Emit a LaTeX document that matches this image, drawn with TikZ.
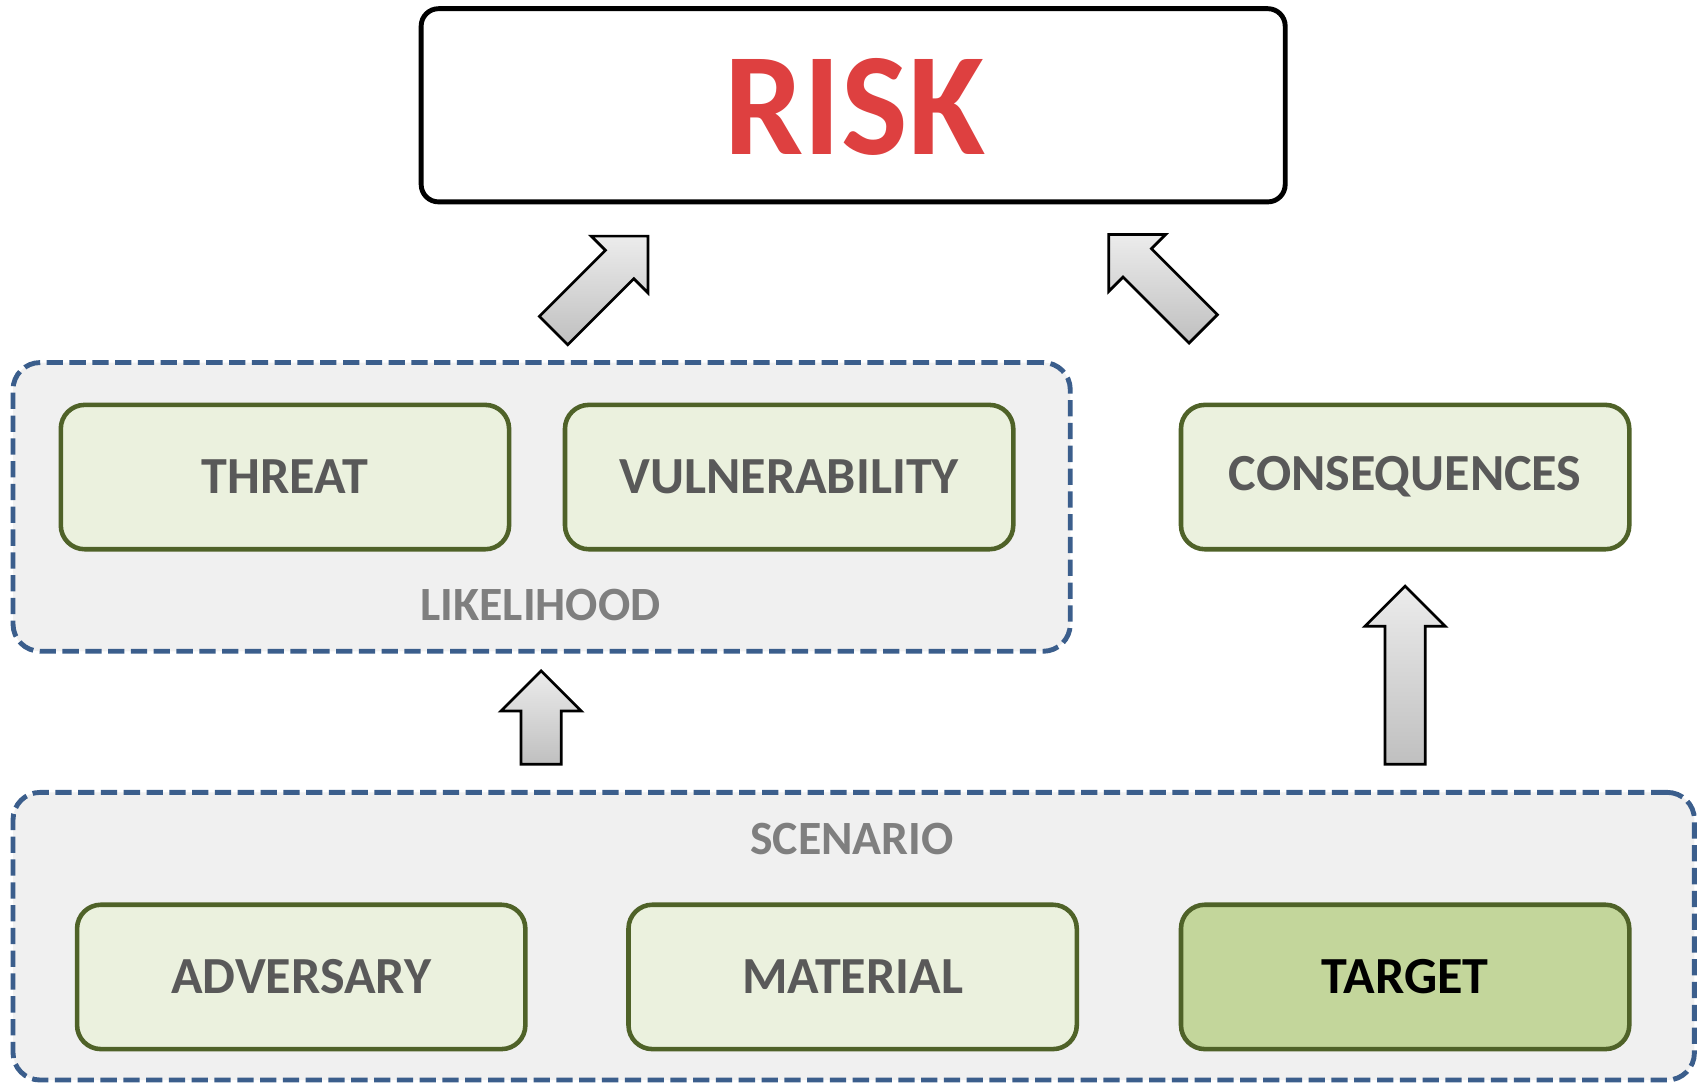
\documentclass[tikz,border=0pt]{standalone}
\usepackage{fontspec}
\setmainfont{Carlito}
\definecolor{dashblue}{HTML}{3B5E8C}
\definecolor{panelgray}{HTML}{F0F0F0}
\definecolor{boxfill}{HTML}{EBF1DE}
\definecolor{boxline}{HTML}{4F6228}
\definecolor{targetfill}{HTML}{C3D69B}
\definecolor{textgray}{HTML}{595959}
\definecolor{labelgray}{HTML}{7F7F7F}
\definecolor{riskred}{HTML}{DE4040}
\tikzset{
  panel/.style={draw=dashblue, fill=panelgray, line width=4.5pt, dash pattern=on 15pt off 6pt,
    rounded corners=25pt, inner sep=0pt, outer sep=0pt},
  itembox/.style={draw=boxline, fill=boxfill, line width=4.2pt, rounded corners=22pt,
    minimum width=413pt, minimum height=133pt, inner sep=0pt, outer sep=0pt,
    text=textgray, font=\bfseries\fontsize{48}{58}\selectfont},
  paneltitle/.style={text=labelgray, font=\bfseries\fontsize{44}{52}\selectfont, inner sep=0pt},
  riskbox/.style={draw=black, fill=white, line width=4.5pt, rounded corners=16pt,
    minimum width=796pt, minimum height=178pt, inner sep=0pt, outer sep=0pt},
  blockarrow/.style={draw=black, line width=2.5pt, line join=miter, top color=gray!15, bottom color=gray!50}
}
\newcommand\blkarrow[4]{%
  \begin{scope}[shift={(#1,#2)},rotate=#3]
    \draw[blockarrow] (0,-18.5) -- ({#4-37},-18.5) -- ({#4-37},-37) -- (#4,0)
      -- ({#4-37},37) -- ({#4-37},18.5) -- (0,18.5) -- cycle;
  \end{scope}}
\begin{document}
\begin{tikzpicture}[x=1pt,y=-1pt]
\useasboundingbox (0,0) rectangle (1568,998);
% panels
\node[panel, minimum width=974pt, minimum height=266pt] (likelihood) at (499,467) {};
\node[panel, minimum width=1549pt, minimum height=265pt] (scenario) at (786.5,862.5) {};
\node[paneltitle] (liklabel) at (498,557) {LIKELIHOOD};
\node[paneltitle] (scenlabel) at (785,773) {SCENARIO};
% risk
\node[riskbox] (risk) at (786,97) {};
\node[text=riskred, font=\bfseries\fontsize{135}{140}\selectfont, inner sep=0pt] (risktext) at (787.5,98.5) {\scalebox{0.96}[1]{RISK}};
% items
\node[itembox] (threat) at (262.5,439.5) {THREAT};
\node[itembox] (vuln) at (727,439.5) {VULNERABILITY};
\node[itembox] (cons) at (1294.5,439.5) {CONSEQUENCES};
\node[itembox] (adv) at (277.5,900) {ADVERSARY};
\node[itembox] (mat) at (785.5,900) {MATERIAL};
\node[itembox, fill=targetfill, text=black] (target) at (1294.5,900) {TARGET};
% block arrows
\blkarrow{510}{304.5}{45}{123}
\blkarrow{1108.5}{303}{135}{123}
\blkarrow{498.5}{704}{90}{86}
\blkarrow{1294.5}{704}{90}{164}
\end{tikzpicture}
\end{document}
